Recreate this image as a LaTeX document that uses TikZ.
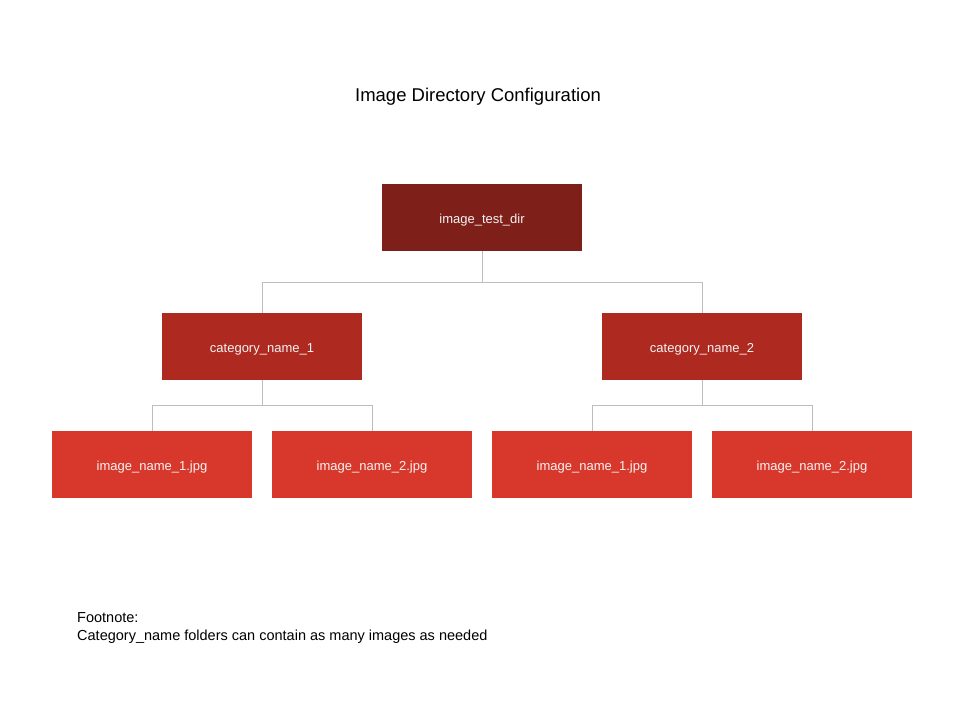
\documentclass[tikz,border=0pt]{standalone}
\usepackage{fontspec}
\setmainfont{Liberation Sans}

\definecolor{rootred}{HTML}{7F1F19}
\definecolor{catred}{HTML}{AE2A21}
\definecolor{leafred}{HTML}{D8382B}
\definecolor{linegray}{HTML}{BDBDBD}
\definecolor{boxtext}{HTML}{F4F4F4}

\begin{document}
\begin{tikzpicture}[x=1pt, y=-1pt,
  box/.style={minimum width=200pt, minimum height=67pt, inner sep=0pt,
    text height=12.5pt, text depth=0pt,
    text=boxtext, font=\fontsize{13}{15}\selectfont},
  link/.style={draw=linegray, line width=0.8pt}]
  \useasboundingbox (0,0) rectangle (960,720);
  \node (title) at (478,97) {\fontsize{18.5}{22}\selectfont Image Directory Configuration};

  \node[box, fill=rootred] (root) at (482,217.5) {image\_test\_dir};
  \node[box, fill=catred] (cat1) at (262,346.5) {category\_name\_1};
  \node[box, fill=catred] (cat2) at (702,346.5) {category\_name\_2};
  \node[box, fill=leafred] (img11) at (152,464.5) {image\_name\_1.jpg};
  \node[box, fill=leafred] (img12) at (372,464.5) {image\_name\_2.jpg};
  \node[box, fill=leafred] (img21) at (592,464.5) {image\_name\_1.jpg};
  \node[box, fill=leafred] (img22) at (812,464.5) {image\_name\_2.jpg};

  \draw[link] (root.south) -- ++(0,31) -| (cat1.north);
  \draw[link] (root.south) -- ++(0,31) -| (cat2.north);
  \draw[link] (cat1.south) -- ++(0,25) -| (img11.north);
  \draw[link] (cat1.south) -- ++(0,25) -| (img12.north);
  \draw[link] (cat2.south) -- ++(0,25) -| (img21.north);
  \draw[link] (cat2.south) -- ++(0,25) -| (img22.north);

  \node[anchor=north west, align=left, inner sep=0pt, font=\fontsize{14.5}{18.5}\selectfont]
    (note) at (77,612) {Footnote:\\Category\_name folders can contain as many images as needed};
\end{tikzpicture}
\end{document}
